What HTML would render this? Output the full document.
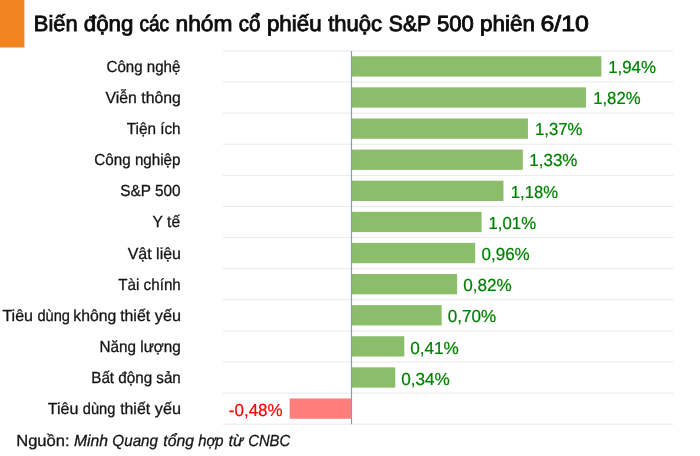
<!DOCTYPE html>
<html><head><meta charset="utf-8"><title>chart</title>
<style>
html,body{margin:0;padding:0;background:#fff;}
body{width:700px;height:456px;overflow:hidden;font-family:"Liberation Sans",sans-serif;}
svg{display:block;}
text{font-family:"Liberation Sans",sans-serif;}
</style></head><body>
<svg style="will-change:transform" width="700" height="456" viewBox="0 0 700 456">
<rect x="0" y="0" width="700" height="456" fill="#ffffff"/>
<rect x="0" y="0" width="24.4" height="47.5" fill="#f28420"/>

<rect x="222.7" y="50.9" width="450.7" height="373.3" fill="#ffffff"/>
<text x="33.77" y="31.45" font-size="22.0" fill="#0c0c0c" stroke="#0c0c0c" stroke-width="0.85" textLength="43.89" lengthAdjust="spacingAndGlyphs" text-rendering="geometricPrecision">Biến</text>
<text x="83.75" y="31.45" font-size="22.0" fill="#0c0c0c" stroke="#0c0c0c" stroke-width="0.85" textLength="49.60" lengthAdjust="spacingAndGlyphs" text-rendering="geometricPrecision">động</text>
<text x="139.47" y="31.45" font-size="22.0" fill="#0c0c0c" stroke="#0c0c0c" stroke-width="0.85" textLength="29.68" lengthAdjust="spacingAndGlyphs" text-rendering="geometricPrecision">các</text>
<text x="175.54" y="31.45" font-size="22.0" fill="#0c0c0c" stroke="#0c0c0c" stroke-width="0.85" textLength="56.92" lengthAdjust="spacingAndGlyphs" text-rendering="geometricPrecision">nhóm</text>
<text x="238.86" y="31.45" font-size="22.0" fill="#0c0c0c" stroke="#0c0c0c" stroke-width="0.85" textLength="21.67" lengthAdjust="spacingAndGlyphs" text-rendering="geometricPrecision">cổ</text>
<text x="266.94" y="31.45" font-size="22.0" fill="#0c0c0c" stroke="#0c0c0c" stroke-width="0.85" textLength="54.72" lengthAdjust="spacingAndGlyphs" text-rendering="geometricPrecision">phiếu</text>
<text x="328.19" y="31.45" font-size="22.0" fill="#0c0c0c" stroke="#0c0c0c" stroke-width="0.85" textLength="53.86" lengthAdjust="spacingAndGlyphs" text-rendering="geometricPrecision">thuộc</text>
<text x="388.85" y="31.45" font-size="22.0" fill="#0c0c0c" stroke="#0c0c0c" stroke-width="0.85" textLength="42.24" lengthAdjust="spacingAndGlyphs" text-rendering="geometricPrecision">S&amp;P</text>
<text x="436.91" y="31.45" font-size="22.0" fill="#0c0c0c" stroke="#0c0c0c" stroke-width="0.85" textLength="36.93" lengthAdjust="spacingAndGlyphs" text-rendering="geometricPrecision">500</text>
<text x="480.14" y="31.45" font-size="22.0" fill="#0c0c0c" stroke="#0c0c0c" stroke-width="0.85" textLength="54.92" lengthAdjust="spacingAndGlyphs" text-rendering="geometricPrecision">phiên</text>
<text x="540.40" y="31.45" font-size="22.0" fill="#0c0c0c" stroke="#0c0c0c" stroke-width="0.85" textLength="48.54" lengthAdjust="spacingAndGlyphs" text-rendering="geometricPrecision">6/10</text>
<line x1="222.7" x2="673.4" y1="50.90" y2="50.90" stroke="#e9e9e9" stroke-width="1"/>
<line x1="222.7" x2="673.4" y1="82.01" y2="82.01" stroke="#e9e9e9" stroke-width="1"/>
<line x1="222.7" x2="673.4" y1="113.12" y2="113.12" stroke="#e9e9e9" stroke-width="1"/>
<line x1="222.7" x2="673.4" y1="144.22" y2="144.22" stroke="#e9e9e9" stroke-width="1"/>
<line x1="222.7" x2="673.4" y1="175.33" y2="175.33" stroke="#e9e9e9" stroke-width="1"/>
<line x1="222.7" x2="673.4" y1="206.44" y2="206.44" stroke="#e9e9e9" stroke-width="1"/>
<line x1="222.7" x2="673.4" y1="237.55" y2="237.55" stroke="#e9e9e9" stroke-width="1"/>
<line x1="222.7" x2="673.4" y1="268.66" y2="268.66" stroke="#e9e9e9" stroke-width="1"/>
<line x1="222.7" x2="673.4" y1="299.77" y2="299.77" stroke="#e9e9e9" stroke-width="1"/>
<line x1="222.7" x2="673.4" y1="330.88" y2="330.88" stroke="#e9e9e9" stroke-width="1"/>
<line x1="222.7" x2="673.4" y1="361.98" y2="361.98" stroke="#e9e9e9" stroke-width="1"/>
<line x1="222.7" x2="673.4" y1="393.09" y2="393.09" stroke="#e9e9e9" stroke-width="1"/>
<line x1="222.7" x2="673.4" y1="424.20" y2="424.20" stroke="#e9e9e9" stroke-width="1"/>
<rect x="351.50" y="56.25" width="249.87" height="20.3" fill="#8cbd6a"/>
<text x="608.15" y="72.90" font-size="17.4" fill="#008000" stroke="#008000" stroke-width="0.22" textLength="47.90" lengthAdjust="spacingAndGlyphs" text-rendering="geometricPrecision">1,94%</text>
<text x="106.55" y="71.70" font-size="16.0" fill="#151515" stroke="#151515" stroke-width="0.3" textLength="73.79" lengthAdjust="spacingAndGlyphs" text-rendering="geometricPrecision">Công nghệ</text>
<rect x="351.50" y="87.36" width="234.42" height="20.3" fill="#8cbd6a"/>
<text x="593.15" y="104.08" font-size="17.4" fill="#008000" stroke="#008000" stroke-width="0.22" textLength="47.50" lengthAdjust="spacingAndGlyphs" text-rendering="geometricPrecision">1,82%</text>
<text x="105.55" y="102.85" font-size="16.0" fill="#151515" stroke="#151515" stroke-width="0.3" textLength="75.24" lengthAdjust="spacingAndGlyphs" text-rendering="geometricPrecision">Viễn thông</text>
<rect x="351.50" y="118.47" width="176.46" height="20.3" fill="#8cbd6a"/>
<text x="534.95" y="135.26" font-size="17.4" fill="#008000" stroke="#008000" stroke-width="0.22" textLength="47.50" lengthAdjust="spacingAndGlyphs" text-rendering="geometricPrecision">1,37%</text>
<text x="126.80" y="134.00" font-size="16.0" fill="#151515" stroke="#151515" stroke-width="0.3" textLength="53.79" lengthAdjust="spacingAndGlyphs" text-rendering="geometricPrecision">Tiện ích</text>
<rect x="351.50" y="149.58" width="171.30" height="20.3" fill="#8cbd6a"/>
<text x="529.35" y="166.44" font-size="17.4" fill="#008000" stroke="#008000" stroke-width="0.22" textLength="48.10" lengthAdjust="spacingAndGlyphs" text-rendering="geometricPrecision">1,33%</text>
<text x="94.35" y="165.15" font-size="16.0" fill="#151515" stroke="#151515" stroke-width="0.3" textLength="86.19" lengthAdjust="spacingAndGlyphs" text-rendering="geometricPrecision">Công nghiệp</text>
<rect x="351.50" y="180.69" width="151.98" height="20.3" fill="#8cbd6a"/>
<text x="510.85" y="197.62" font-size="17.4" fill="#008000" stroke="#008000" stroke-width="0.22" textLength="47.20" lengthAdjust="spacingAndGlyphs" text-rendering="geometricPrecision">1,18%</text>
<text x="120.35" y="196.30" font-size="16.0" fill="#151515" stroke="#151515" stroke-width="0.3" textLength="60.19" lengthAdjust="spacingAndGlyphs" text-rendering="geometricPrecision">S&amp;P 500</text>
<rect x="351.50" y="211.80" width="130.09" height="20.3" fill="#8cbd6a"/>
<text x="488.55" y="228.80" font-size="17.4" fill="#008000" stroke="#008000" stroke-width="0.22" textLength="47.50" lengthAdjust="spacingAndGlyphs" text-rendering="geometricPrecision">1,01%</text>
<text x="152.61" y="227.45" font-size="16.0" fill="#151515" stroke="#151515" stroke-width="0.3" textLength="27.44" lengthAdjust="spacingAndGlyphs" text-rendering="geometricPrecision">Y tế</text>
<rect x="351.50" y="242.90" width="123.65" height="20.3" fill="#8cbd6a"/>
<text x="481.46" y="259.98" font-size="17.4" fill="#008000" stroke="#008000" stroke-width="0.22" textLength="48.29" lengthAdjust="spacingAndGlyphs" text-rendering="geometricPrecision">0,96%</text>
<text x="127.65" y="258.60" font-size="16.0" fill="#151515" stroke="#151515" stroke-width="0.3" textLength="53.39" lengthAdjust="spacingAndGlyphs" text-rendering="geometricPrecision">Vật liệu</text>
<rect x="351.50" y="274.01" width="105.62" height="20.3" fill="#8cbd6a"/>
<text x="463.25" y="291.16" font-size="17.4" fill="#008000" stroke="#008000" stroke-width="0.22" textLength="48.59" lengthAdjust="spacingAndGlyphs" text-rendering="geometricPrecision">0,82%</text>
<text x="118.30" y="289.75" font-size="16.0" fill="#151515" stroke="#151515" stroke-width="0.3" textLength="62.49" lengthAdjust="spacingAndGlyphs" text-rendering="geometricPrecision">Tài chính</text>
<rect x="351.50" y="305.12" width="90.16" height="20.3" fill="#8cbd6a"/>
<text x="447.86" y="322.34" font-size="17.4" fill="#008000" stroke="#008000" stroke-width="0.22" textLength="48.29" lengthAdjust="spacingAndGlyphs" text-rendering="geometricPrecision">0,70%</text>
<text x="2.40" y="320.90" font-size="16.0" fill="#151515" stroke="#151515" stroke-width="0.3" textLength="30.64" lengthAdjust="spacingAndGlyphs" text-rendering="geometricPrecision">Tiêu</text>
<text x="37.45" y="320.90" font-size="16.0" fill="#151515" stroke="#151515" stroke-width="0.3" textLength="32.54" lengthAdjust="spacingAndGlyphs" text-rendering="geometricPrecision">dùng</text>
<text x="73.30" y="320.90" font-size="16.0" fill="#151515" stroke="#151515" stroke-width="0.3" textLength="42.90" lengthAdjust="spacingAndGlyphs" text-rendering="geometricPrecision">không</text>
<text x="120.15" y="320.90" font-size="16.0" fill="#151515" stroke="#151515" stroke-width="0.3" textLength="30.00" lengthAdjust="spacingAndGlyphs" text-rendering="geometricPrecision">thiết</text>
<text x="154.89" y="320.90" font-size="16.0" fill="#151515" stroke="#151515" stroke-width="0.3" textLength="26.13" lengthAdjust="spacingAndGlyphs" text-rendering="geometricPrecision">yếu</text>
<rect x="351.50" y="336.23" width="52.81" height="20.3" fill="#8cbd6a"/>
<text x="410.16" y="353.52" font-size="17.4" fill="#008000" stroke="#008000" stroke-width="0.22" textLength="48.69" lengthAdjust="spacingAndGlyphs" text-rendering="geometricPrecision">0,41%</text>
<text x="99.55" y="352.05" font-size="16.0" fill="#151515" stroke="#151515" stroke-width="0.3" textLength="81.26" lengthAdjust="spacingAndGlyphs" text-rendering="geometricPrecision">Năng lượng</text>
<rect x="351.50" y="367.34" width="43.79" height="20.3" fill="#8cbd6a"/>
<text x="401.16" y="384.70" font-size="17.4" fill="#008000" stroke="#008000" stroke-width="0.22" textLength="48.69" lengthAdjust="spacingAndGlyphs" text-rendering="geometricPrecision">0,34%</text>
<text x="91.25" y="383.20" font-size="16.0" fill="#151515" stroke="#151515" stroke-width="0.3" textLength="89.56" lengthAdjust="spacingAndGlyphs" text-rendering="geometricPrecision">Bất động sản</text>
<rect x="289.68" y="398.45" width="61.82" height="20.3" fill="#ff7d7d"/>
<text x="228.86" y="415.88" font-size="17.4" fill="#ff0000" stroke="#ff0000" stroke-width="0.22" textLength="53.69" lengthAdjust="spacingAndGlyphs" text-rendering="geometricPrecision">-0,48%</text>
<text x="47.70" y="414.35" font-size="16.0" fill="#151515" stroke="#151515" stroke-width="0.3" textLength="30.64" lengthAdjust="spacingAndGlyphs" text-rendering="geometricPrecision">Tiêu</text>
<text x="82.75" y="414.35" font-size="16.0" fill="#151515" stroke="#151515" stroke-width="0.3" textLength="32.54" lengthAdjust="spacingAndGlyphs" text-rendering="geometricPrecision">dùng</text>
<text x="120.15" y="414.35" font-size="16.0" fill="#151515" stroke="#151515" stroke-width="0.3" textLength="30.00" lengthAdjust="spacingAndGlyphs" text-rendering="geometricPrecision">thiết</text>
<text x="154.89" y="414.35" font-size="16.0" fill="#151515" stroke="#151515" stroke-width="0.3" textLength="26.13" lengthAdjust="spacingAndGlyphs" text-rendering="geometricPrecision">yếu</text>
<line x1="351.50" x2="351.50" y1="50.9" y2="424.2" stroke="#9098af" stroke-width="1.15"/>
<text x="16.17" y="445.50" font-size="16.0" fill="#151515" stroke="#151515" stroke-width="0.3" textLength="53.45" lengthAdjust="spacingAndGlyphs" text-rendering="geometricPrecision">Nguồn:</text>
<text x="74.00" y="445.50" font-size="16.0" fill="#151515" stroke="#151515" stroke-width="0.3" textLength="34.03" lengthAdjust="spacingAndGlyphs" text-rendering="geometricPrecision" font-style="italic">Minh</text>
<text x="112.36" y="445.50" font-size="16.0" fill="#151515" stroke="#151515" stroke-width="0.3" textLength="45.69" lengthAdjust="spacingAndGlyphs" text-rendering="geometricPrecision" font-style="italic">Quang</text>
<text x="163.37" y="445.50" font-size="16.0" fill="#151515" stroke="#151515" stroke-width="0.3" textLength="30.58" lengthAdjust="spacingAndGlyphs" text-rendering="geometricPrecision" font-style="italic">tổng</text>
<text x="198.15" y="445.50" font-size="16.0" fill="#151515" stroke="#151515" stroke-width="0.3" textLength="25.43" lengthAdjust="spacingAndGlyphs" text-rendering="geometricPrecision" font-style="italic">hợp</text>
<text x="228.43" y="445.50" font-size="16.0" fill="#151515" stroke="#151515" stroke-width="0.3" textLength="14.82" lengthAdjust="spacingAndGlyphs" text-rendering="geometricPrecision" font-style="italic">từ</text>
<text x="248.22" y="445.50" font-size="16.0" fill="#151515" stroke="#151515" stroke-width="0.3" textLength="41.98" lengthAdjust="spacingAndGlyphs" text-rendering="geometricPrecision" font-style="italic">CNBC</text>
</svg></body></html>
